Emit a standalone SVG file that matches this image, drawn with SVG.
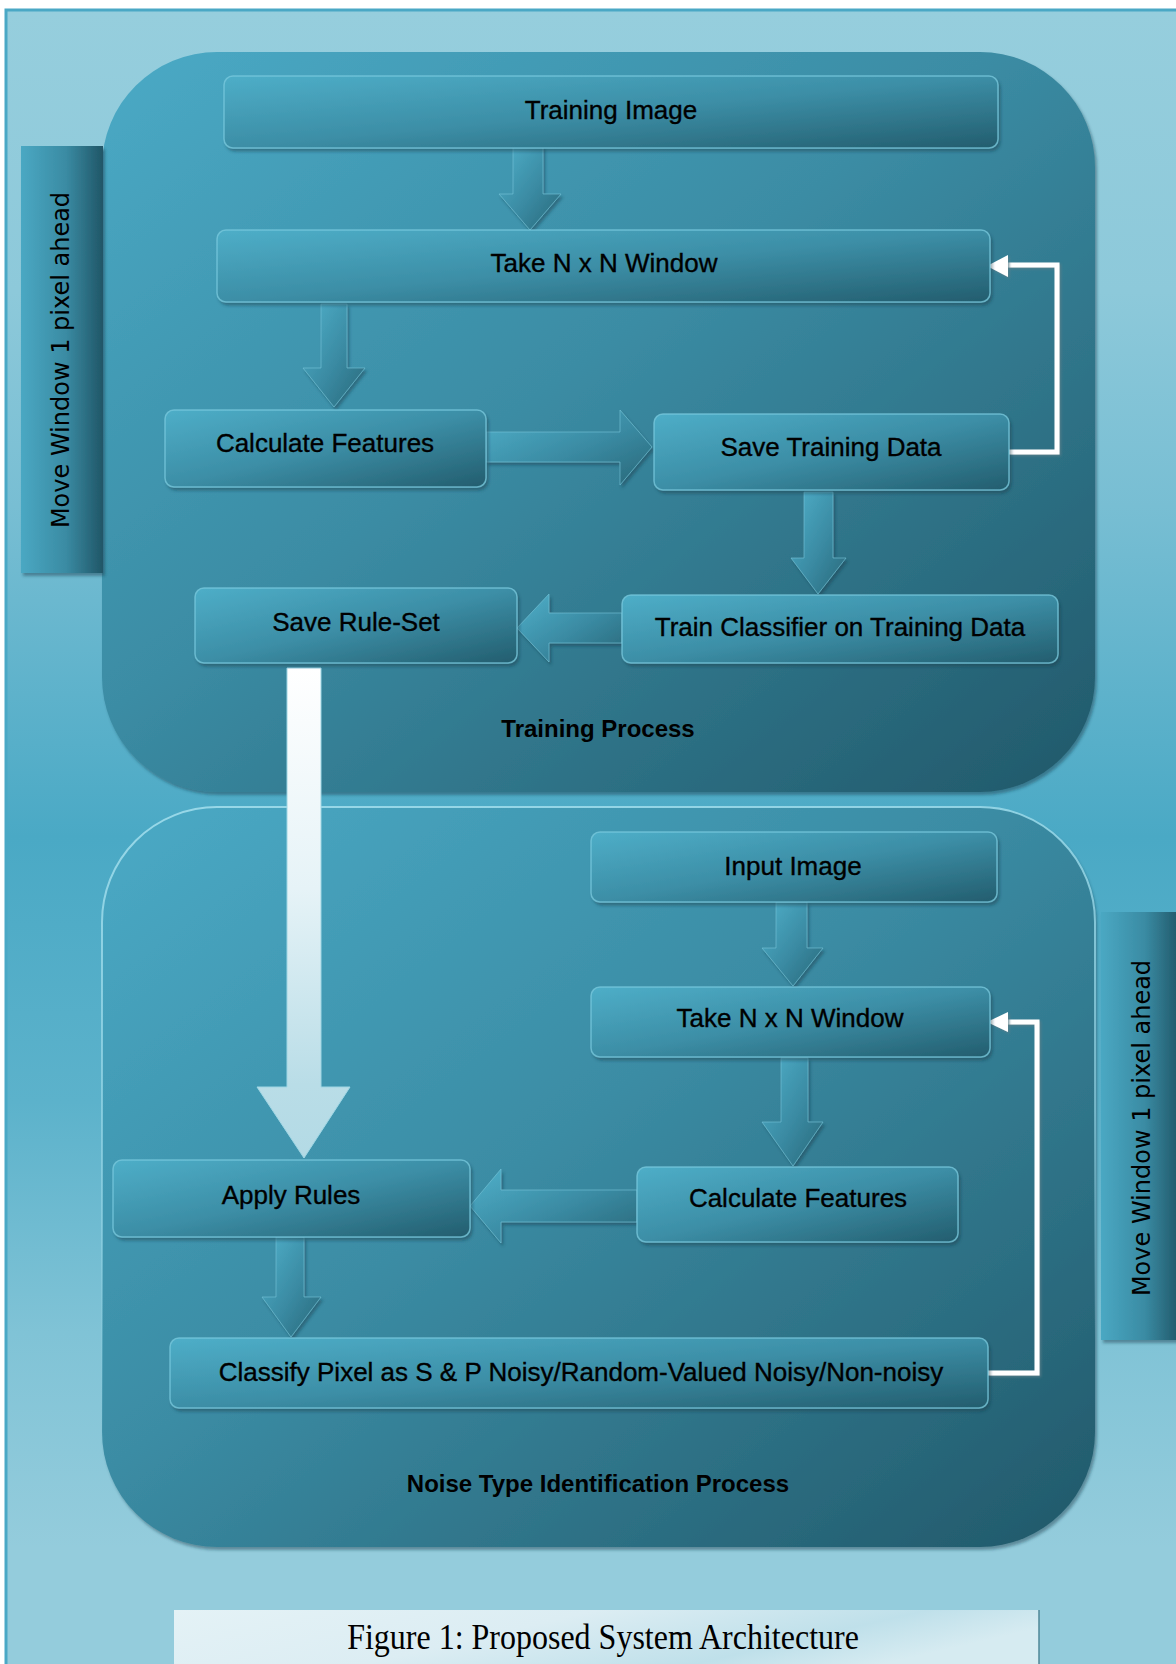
<svg xmlns="http://www.w3.org/2000/svg" width="1176" height="1664" viewBox="0 0 1176 1664">
<defs>
  <linearGradient id="bgG" gradientUnits="userSpaceOnUse" x1="0" y1="10" x2="0" y2="1664">
    <stop offset="0" stop-color="#96cedd"/>
    <stop offset="0.17" stop-color="#8dc9da"/>
    <stop offset="0.3" stop-color="#78bed3"/>
    <stop offset="0.5" stop-color="#4aa9c5"/>
    <stop offset="0.66" stop-color="#5cb2cb"/>
    <stop offset="0.8" stop-color="#80c3d6"/>
    <stop offset="0.93" stop-color="#94ccdc"/>
    <stop offset="1" stop-color="#94ccdc"/>
  </linearGradient>
  <linearGradient id="contG" x1="0" y1="0" x2="1" y2="1">
    <stop offset="0" stop-color="#4aaac6"/>
    <stop offset="0.45" stop-color="#3b8ca4"/>
    <stop offset="1" stop-color="#215869"/>
  </linearGradient>
  <linearGradient id="edgeG" x1="0" y1="0" x2="0.15" y2="1">
    <stop offset="0" stop-color="#98d8e8" stop-opacity="1"/>
    <stop offset="0.55" stop-color="#98d8e8" stop-opacity="0.6"/>
    <stop offset="0.85" stop-color="#98d8e8" stop-opacity="0"/>
  </linearGradient>
  <linearGradient id="nodeG" x1="0" y1="0" x2="1" y2="1">
    <stop offset="0" stop-color="#4eaec8"/>
    <stop offset="0.5" stop-color="#3c8ea6"/>
    <stop offset="1" stop-color="#235d6e"/>
  </linearGradient>
  <linearGradient id="arrG" x1="0" y1="0" x2="1" y2="1">
    <stop offset="0" stop-color="#4fb0ca"/>
    <stop offset="0.55" stop-color="#3a8aa2"/>
    <stop offset="1" stop-color="#286778"/>
  </linearGradient>
  <linearGradient id="sideG" x1="0" y1="0" x2="1" y2="0">
    <stop offset="0" stop-color="#4aa8c3"/>
    <stop offset="0.55" stop-color="#3a8ba3"/>
    <stop offset="1" stop-color="#205667"/>
  </linearGradient>
  <linearGradient id="whiteG" gradientUnits="userSpaceOnUse" x1="0" y1="668" x2="0" y2="1158">
    <stop offset="0" stop-color="#ffffff"/>
    <stop offset="0.45" stop-color="#e6f3f7"/>
    <stop offset="0.85" stop-color="#b9dde7"/>
    <stop offset="1" stop-color="#b3dae5"/>
  </linearGradient>
  <linearGradient id="capG" x1="0" y1="0" x2="1" y2="0.3">
    <stop offset="0" stop-color="#e4f2f6"/>
    <stop offset="0.45" stop-color="#dcedf3"/>
    <stop offset="0.8" stop-color="#bfe0ea"/>
    <stop offset="1" stop-color="#d6ebf1"/>
  </linearGradient>
  <filter id="sh" x="-10%" y="-10%" width="130%" height="140%">
    <feDropShadow dx="2" dy="3" stdDeviation="1.5" flood-color="#123e4b" flood-opacity="0.45"/>
  </filter>
  <filter id="shw" x="-10%" y="-10%" width="130%" height="130%">
    <feDropShadow dx="1.5" dy="1.5" stdDeviation="0.8" flood-color="#5d7f89" flood-opacity="0.8"/>
  </filter>
</defs>
<style>
  .box { fill: url(#nodeG); stroke: #79c9dd; stroke-opacity: 0.75; stroke-width: 1.5; filter: url(#sh); }
  .lbl { font-family: 'Liberation Sans', Arial, sans-serif; font-size: 26px; fill: #000; stroke: #000; stroke-width: 0.35; text-anchor: middle; }
  .ttl { font-family: 'Liberation Sans', Arial, sans-serif; font-size: 24px; font-weight: bold; fill: #000; text-anchor: middle; }
  .side { fill: url(#sideG); filter: url(#sh); }
  .sidetxt { font-family: 'DejaVu Sans', Verdana, sans-serif; font-size: 24px; fill: #000; text-anchor: middle; }
  .arr { fill: url(#arrG); stroke: #78c6da; stroke-opacity: 0.6; stroke-width: 1; filter: url(#sh); }
  .fb { fill: none; stroke: #ffffff; stroke-width: 5; filter: url(#shw); }
  .fbh { fill: #ffffff; filter: url(#shw); }
</style>

<rect x="0" y="0" width="1176" height="1664" fill="#ffffff"/>
<rect id="background" x="6" y="10" width="1200" height="1700" fill="url(#bgG)" stroke="#4aa8c5" stroke-width="3"/>

<g id="training-process">
  <rect x="102" y="52" width="993" height="740" rx="115" ry="115" fill="url(#contG)" filter="url(#sh)"/>
  <text class="ttl" x="598" y="737">Training Process</text>
</g>
<g id="noise-process">
  <rect x="102" y="807" width="993" height="740" rx="115" ry="115" fill="url(#contG)" filter="url(#sh)"/>
  <rect x="102" y="807" width="993" height="740" rx="115" ry="115" fill="none" stroke="url(#edgeG)" stroke-width="2"/>
  <text class="ttl" x="598" y="1492">Noise Type Identification Process</text>
</g>

<g id="move-window-left">
  <rect class="side" x="21" y="146" width="82" height="427"/>
  <text class="sidetxt" transform="translate(69,360) rotate(-90)" x="0" y="0">Move Window 1 pixel ahead</text>
</g>
<g id="move-window-right">
  <rect class="side" x="1101" y="912" width="80" height="428"/>
  <text class="sidetxt" transform="translate(1150,1128) rotate(-90)" x="0" y="0">Move Window 1 pixel ahead</text>
</g>

<g id="connectors">
  <polygon class="arr" points="513,146 543,146 543,194 561,194 530,230 499,194 513,194"/>
  <polygon class="arr" points="321,304 347,304 347,368 365,368 334,407 303,368 321,368"/>
  <polygon class="arr" points="486,432 620,432 620,410 652,447 620,485 620,462 486,462"/>
  <polygon class="arr" points="804,492 833,492 833,558 846,558 818,594 791,558 804,558"/>
  <polygon class="arr" points="622,613 549,613 549,594 517,628 549,662 549,643 622,643"/>
  <polyline class="fb" points="1009,452 1057,452 1057,265 1004,265"/>
  <polygon class="fbh" points="987,266 1008,255 1008,277"/>
  <polygon points="287,668 321,668 321,1087 350,1087 304,1158 257,1087 287,1087" fill="url(#whiteG)" stroke="#9fd6e4" stroke-width="1"/>
  <polygon class="arr" points="776,902 807,902 807,948 823,948 793,986 762,948 776,948"/>
  <polygon class="arr" points="781,1058 808,1058 808,1122 823,1122 793,1166 762,1122 781,1122"/>
  <polygon class="arr" points="637,1190 501,1190 501,1169 470,1206 501,1243 501,1222 637,1222"/>
  <polygon class="arr" points="276,1237 304,1237 304,1297 321,1297 291,1337 262,1297 276,1297"/>
  <polyline class="fb" points="988,1373 1037,1373 1037,1022 1004,1022"/>
  <polygon class="fbh" points="987,1022 1008,1012 1008,1032"/>
</g>

<g id="training-image">
  <rect class="box" x="224" y="76" width="774" height="72" rx="9"/>
  <text class="lbl" x="611" y="119">Training Image</text>
</g>
<g id="take-window-1">
  <rect class="box" x="217" y="230" width="773" height="72" rx="9"/>
  <text class="lbl" x="604" y="272">Take N x N Window</text>
</g>
<g id="calc-features-1">
  <rect class="box" x="165" y="410" width="321" height="77" rx="9"/>
  <text class="lbl" x="325" y="452">Calculate Features</text>
</g>
<g id="save-training-data">
  <rect class="box" x="654" y="414" width="355" height="76" rx="9"/>
  <text class="lbl" x="831" y="456">Save Training Data</text>
</g>
<g id="train-classifier">
  <rect class="box" x="622" y="595" width="436" height="68" rx="9"/>
  <text class="lbl" x="840" y="636">Train Classifier on Training Data</text>
</g>
<g id="save-rule-set">
  <rect class="box" x="195" y="588" width="322" height="75" rx="9"/>
  <text class="lbl" x="356" y="631">Save Rule-Set</text>
</g>
<g id="input-image">
  <rect class="box" x="591" y="832" width="406" height="70" rx="9"/>
  <text class="lbl" x="793" y="875">Input Image</text>
</g>
<g id="take-window-2">
  <rect class="box" x="591" y="987" width="399" height="70" rx="9"/>
  <text class="lbl" x="790" y="1027">Take N x N Window</text>
</g>
<g id="calc-features-2">
  <rect class="box" x="637" y="1167" width="321" height="75" rx="9"/>
  <text class="lbl" x="798" y="1207">Calculate Features</text>
</g>
<g id="apply-rules">
  <rect class="box" x="113" y="1160" width="357" height="77" rx="9"/>
  <text class="lbl" x="291" y="1204">Apply Rules</text>
</g>
<g id="classify-pixel">
  <rect class="box" x="170" y="1338" width="818" height="70" rx="9"/>
  <text class="lbl" x="581" y="1381">Classify Pixel as S &amp; P Noisy/Random-Valued Noisy/Non-noisy</text>
</g>

<g id="caption">
  <rect x="174" y="1610" width="865" height="60" fill="url(#capG)"/>
  <line x1="1039" y1="1610" x2="1039" y2="1664" stroke="#4f8797" stroke-width="1.5"/>
  <text transform="translate(603,1649) scale(1,1.1)" x="0" y="0" font-family="'Liberation Serif', 'Times New Roman', serif" font-size="32" fill="#000" text-anchor="middle">Figure 1: Proposed System Architecture</text>
</g>
</svg>
